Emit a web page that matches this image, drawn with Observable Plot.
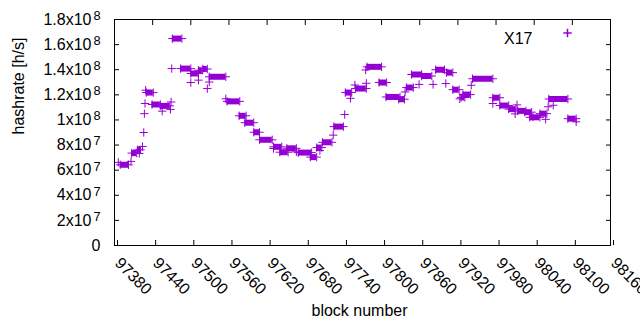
<!DOCTYPE html>
<html><head><meta charset="utf-8">
<script src="https://cdn.jsdelivr.net/npm/d3@7"></script>
<script src="https://cdn.jsdelivr.net/npm/@observablehq/plot@0.6"></script>
<style>
body{margin:0;background:#fff}
svg{font-family:"Liberation Sans",Arial,sans-serif}
</style>
</head><body><div id="chart"></div>
<script>
// Runs of consecutive blocks sharing the same hashrate (value in units of 1e7 h/s)
const runStart = [97389,97407,97416,97430,97439,97452,97471,97484,97500,97512,97519,97529,97557,97576,97585,97599,97608,97630,97640,97651,97669,97688,97698,97707,97725,97743,97759,97777,97796,97807,97827,97839,97847,97863,97885,97902,97912,97925,97928,97943,97975,97986,98000,98014,98025,98033,98049,98063,98093];
const runEnd   = [97402,97415,97421,97441,97452,97467,97486,97500,97512,97518,97526,97555,97577,97587,97599,97608,97628,97643,97653,97666,97690,97698,97706,97722,97740,97753,97776,97800,97808,97829,97836,97850,97863,97879,97899,97912,97922,97931,97940,97975,97986,98000,98011,98027,98036,98049,98060,98093,98106];
const runRate  = [6.43,7.36,7.62,12.18,11.23,11.12,16.48,14.09,13.70,13.96,14.06,13.44,11.48,10.33,9.78,9.02,8.42,7.86,7.43,7.74,7.40,7.04,7.80,8.22,9.47,12.18,12.50,14.23,12.98,11.83,11.65,12.58,13.62,13.50,14.00,13.77,12.41,11.79,12.02,13.28,11.77,11.15,10.86,10.72,10.62,10.21,10.50,11.67,10.10];
// Isolated blocks
const ptBlock = [97386,97406,97419,97424,97426,97427,97428,97429,97455,97468,97469,97470,97500,97512,97526,97529,97555,97630,97666,97703,97724,97742,97751,97758,97775,97776,97837,97859,97881,97901,97923,97941,97975,98010,98013,98038,98058,98062,98070,98106];
const ptRate  = [6.62,6.70,7.33,7.88,9.00,10.50,11.31,12.37,10.70,10.84,11.43,14.09,12.98,13.17,12.50,13.02,11.68,7.73,7.46,7.56,8.79,10.43,11.72,12.78,13.98,12.92,12.23,12.83,12.83,12.90,11.68,12.76,11.31,10.48,11.20,10.24,10.05,11.05,11.17,9.85];

const xTicks = [97380,97440,97500,97560,97620,97680,97740,97800,97860,97920,97980,98040,98100,98160];
const yTicks = [0,2e7,4e7,6e7,8e7,1e8,1.2e8,1.4e8,1.6e8,1.8e8];
const yTickText = ["0","2x10^7","4x10^7","6x10^7","8x10^7","1x10^8","1.2x10^8","1.4x10^8","1.6x10^8","1.8x10^8"];
const seriesName = "X17";
const xLabel = "block number";
const yLabel = "hashrate [h/s]";
const color = "#9400d3";

const runs = runStart.map((s, i) => ({x1: s, x2: runEnd[i], y: runRate[i] * 1e7}));
const ends = runs.flatMap(r => [{x: r.x1, y: r.y}, {x: r.x2, y: r.y}]);
const pts = ptBlock.map((b, i) => ({x: b, y: ptRate[i] * 1e7}));

const plot = Plot.plot({
  width: 640, height: 330,
  marginLeft: 114, marginRight: 30, marginTop: 19, marginBottom: 85,
  style: {fontFamily: "'Liberation Sans', Arial, sans-serif", fontSize: "16px", color: "#000", background: "#fff", overflow: "visible"},
  x: {domain: [97380, 98160]},
  y: {domain: [0, 1.8e8]},
  marks: [
    Plot.ruleY(runs, {x1: "x1", x2: "x2", y: "y", stroke: color, strokeWidth: 6}),
    Plot.dot(ends.concat(pts), {x: "x", y: "y", symbol: "plus", r: 2.8, stroke: color, strokeWidth: 1}),
    Plot.frame({stroke: "#000", strokeWidth: 1}),
    Plot.axisX(xTicks, {anchor: "bottom", tickSize: -5, tickPadding: 20, tickRotate: 45, textAnchor: "start", dx: 3, label: null, tickFormat: d => String(d)}),
    Plot.axisX(xTicks, {anchor: "top", tickSize: -5, tickFormat: () => "", label: null}),
    Plot.axisY(yTicks, {anchor: "left", tickSize: -5, tickPadding: 19, label: null, tickFormat: (d, i) => yTickText[yTicks.indexOf(d)]}),
    Plot.axisY(yTicks, {anchor: "right", tickSize: -5, tickFormat: () => "", label: null}),
    Plot.text([yLabel], {frameAnchor: "left", text: d => d, rotate: -90, dx: -96, dy: 2}),
    Plot.text([xLabel], {frameAnchor: "bottom", text: d => d, dx: -3, dy: 70}),
    Plot.text([seriesName], {frameAnchor: "top-right", text: d => d, textAnchor: "end", dx: -78, dy: 13}),
    Plot.dot([seriesName], {frameAnchor: "top-right", symbol: "plus", r: 2.8, stroke: color, dx: -43, dy: 13.5})
  ]
});
document.getElementById("chart").appendChild(plot);

// superscript exponents in y tick labels
d3.select(plot).selectAll('g[aria-label="y-axis tick label"] text').each(function() {
  const t = this.textContent;
  const k = t.indexOf("^");
  if (k < 0) return;
  const sel = d3.select(this);
  sel.text(t.slice(0, k));
  sel.append("tspan").attr("dx", "0.15em").attr("dy", "-0.37em").attr("font-size", "0.8em").text(t.slice(k + 1));
});
</script>
</body></html>
